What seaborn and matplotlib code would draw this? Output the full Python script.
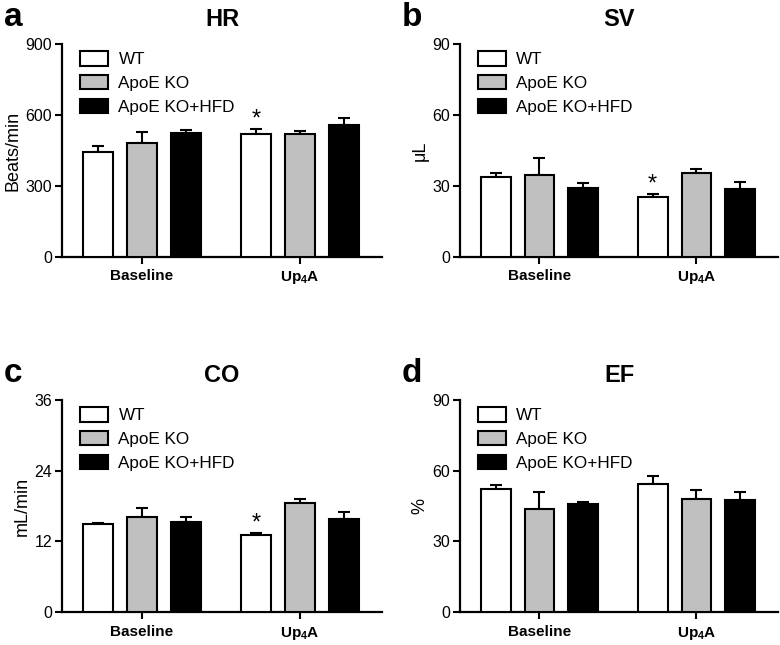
import numpy as np
import pandas as pd
import matplotlib
matplotlib.use("Agg")
import matplotlib.pyplot as plt
import seaborn as sns

# data (mean, SEM upward)
conditions = ["Baseline", "Up4A"]
groups = ["WT", "ApoE KO", "ApoE KO+HFD"]

hr_mean = [[443, 518], [481, 521], [525, 557]]
hr_err = [[25, 22], [47, 10], [10, 29]]
sv_mean = [[33.9, 25.4], [34.8, 35.4], [29.1, 28.6]]
sv_err = [[1.5, 1.1], [7.0, 1.7], [2.2, 3.1]]
co_mean = [[14.9, 13.1], [16.2, 18.5], [15.3, 15.8]]
co_err = [[0.2, 0.3], [1.4, 0.7], [0.9, 1.2]]
ef_mean = [[52.1, 54.5], [43.9, 48.0], [46.0, 47.7]]
ef_err = [[1.9, 3.4], [7.2, 3.6], [0.9, 3.4]]

panels = [
    ("a", "HR", "Beats/min", hr_mean, hr_err, [0, 300, 600, 900], True),
    ("b", "SV", "\u03bcL", sv_mean, sv_err, [0, 30, 60, 90], True),
    ("c", "CO", "mL/min", co_mean, co_err, [0, 12, 24, 36], True),
    ("d", "EF", "%", ef_mean, ef_err, [0, 30, 60, 90], False),
]

colors = {"WT": "white", "ApoE KO": "#c0c0c0", "ApoE KO+HFD": "black"}

sns.set_style("ticks")
plt.rcParams["font.family"] = ["Liberation Sans", "DejaVu Sans"]
plt.rcParams["mathtext.fontset"] = "custom"
plt.rcParams["mathtext.bf"] = "Liberation Sans:bold"
plt.rcParams["mathtext.rm"] = "Liberation Sans:bold"
for key in ["text.color", "axes.labelcolor", "xtick.color", "ytick.color", "axes.edgecolor"]:
    plt.rcParams[key] = "black"

fig = plt.figure(figsize=(7.8, 6.45), dpi=100)
positions = [
    [62 / 780, 1 - 257 / 645, 320 / 780, 213 / 645],
    [460 / 780, 1 - 257 / 645, 318 / 780, 213 / 645],
    [62 / 780, 1 - 612 / 645, 320 / 780, 212 / 645],
    [460 / 780, 1 - 612 / 645, 318 / 780, 212 / 645],
]

for (letter, title, ylabel, means, errs, yticks, star), pos in zip(panels, positions):
    ax = fig.add_axes(pos)
    df = pd.DataFrame({
        "condition": [c for g in groups for c in conditions],
        "group": [g for g in groups for c in conditions],
        "value": [v for row in means for v in row],
    })
    sns.barplot(data=df, x="condition", y="value", hue="group", hue_order=groups,
                order=conditions, palette=colors, edgecolor="black", linewidth=1.5,
                width=0.835, gap=0.32, errorbar=None, ax=ax, zorder=3)

    bar_conts = list(ax.containers)
    for cont, err in zip(bar_conts, errs):
        xs = [b.get_x() + b.get_width() / 2 for b in cont]
        ys = [b.get_height() for b in cont]
        ax.errorbar(xs, ys, yerr=[[0] * len(err), err], fmt="none", ecolor="black",
                    elinewidth=1.5, capsize=4.5, capthick=1.5, zorder=2)

    if star:
        b = bar_conts[0][1]
        top = means[0][1] + errs[0][1]
        ax.text(b.get_x() + b.get_width() / 2, top - yticks[-1] * 0.005, "*",
                ha="center", va="bottom", fontsize=17)

    handles = [cont.patches[0] for cont in bar_conts]
    ax.legend(handles, groups, loc="upper left", bbox_to_anchor=(0.035, 1.0),
              frameon=False, fontsize=12.3, handlelength=1.65, handleheight=0.95,
              labelspacing=0.45, handletextpad=0.6, borderaxespad=0)

    ax.set_xlim(-0.506, 1.52)
    ax.set_ylim(0, yticks[-1])
    ax.set_yticks(yticks)
    ax.set_xticks([0, 1])
    ax.set_xticklabels(["Baseline", r"Up$_{\mathbf{4}}$A"], fontweight="bold", fontsize=11)
    ax.tick_params(axis="y", labelsize=11.5, length=5, width=1.5, pad=2)
    ax.tick_params(axis="x", length=5, width=1.5, pad=4)
    ax.set_xlabel("")
    ax.set_ylabel(ylabel, fontsize=13, labelpad=3)
    for s in ["left", "bottom"]:
        ax.spines[s].set_linewidth(1.6)
    sns.despine(ax=ax)
    ax.set_title(title, fontsize=17, fontweight="bold", pad=13)

    fig.text(pos[0] - 58 / 780, pos[1] + pos[3] + 27 / 645, letter, fontsize=24,
             fontweight="bold", va="center", ha="left")

fig.savefig("out.png", dpi=100)
